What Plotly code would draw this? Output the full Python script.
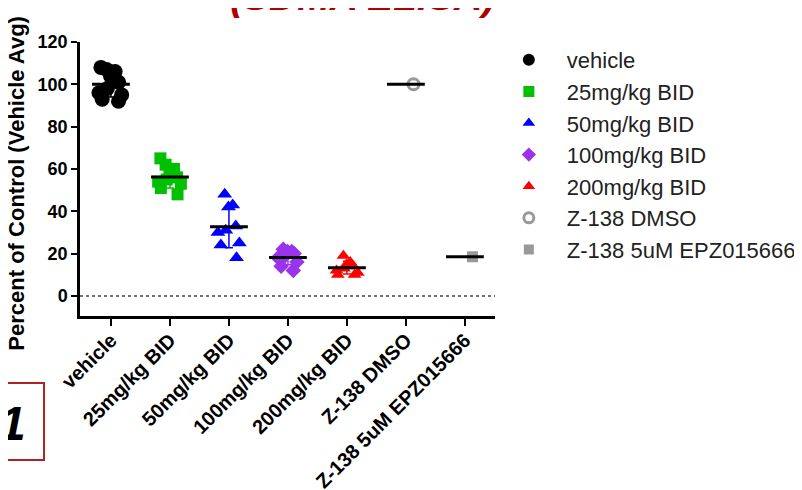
import numpy as np
import plotly.graph_objects as go

categories = ["vehicle", "25mg/kg BID", "50mg/kg BID", "100mg/kg BID",
              "200mg/kg BID", "Z-138 DMSO", "Z-138 5uM EPZ015666"]
vehicle = [108, 107, 106, 104, 101, 98, 96, 95, 93, 92]
dose_25 = [65, 62, 60, 58, 56, 55, 54, 53, 51, 48]
dose_50 = [48, 43, 42, 33, 31, 30, 25, 24, 18]
dose_100 = [22, 21, 21, 20, 19, 18, 16, 14, 12]
dose_200 = [19, 16, 15, 14, 13, 12, 11, 10, 10]
z138_dmso = [100]
z138_epz = [18.5]
y_ticks = [0, 20, 40, 60, 80, 100, 120]

groups = [vehicle, dose_25, dose_50, dose_100, dose_200, z138_dmso, z138_epz]
colors = ["#000000", "#00c000", "#0000ff", "#9933ee", "#ff0000", "#999999", "#999999"]
symbols = ["circle", "square", "triangle-up", "diamond", "triangle-up", "circle-open", "square"]
sizes = [15, 12, 13, 12, 12, 11, 11]
legend_sizes = [12, 11, 11, 11, 11, 10, 10]

FONT = "Liberation Sans, Arial, sans-serif"
fig = go.Figure()

for i, (cat, vals) in enumerate(zip(categories, groups)):
    fig.add_trace(go.Box(
        x=[cat] * len(vals), y=vals, boxpoints="all", jitter=0.9, pointpos=0,
        width=0.55, fillcolor="rgba(0,0,0,0)", line=dict(width=0, color="rgba(0,0,0,0)"),
        marker=dict(color=colors[i], symbol=symbols[i], size=sizes[i],
                    line=dict(width=3 if symbols[i] == "circle-open" else 0, color=colors[i])),
        showlegend=False, hoverinfo="y"))

# mean lines and SD error bars
for i, (cat, vals) in enumerate(zip(categories, groups)):
    arr = np.array(vals, dtype=float)
    sd = float(arr.std(ddof=1)) if len(arr) > 1 else 0.0
    fig.add_trace(go.Scatter(
        x=[cat], y=[arr.mean()], mode="markers",
        marker=dict(symbol="line-ew", size=27, line=dict(width=3, color="black")),
        error_y=dict(type="data", array=[sd], color=colors[i], thickness=1.5, width=4,
                     visible=sd > 0),
        showlegend=False, hoverinfo="skip"))

# legend entries
for i, cat in enumerate(categories):
    fig.add_trace(go.Scatter(
        x=[None], y=[None], mode="markers", name=cat, legendgroup=str(i),
        marker=dict(color=colors[i], symbol=symbols[i], size=legend_sizes[i],
                    line=dict(width=3 if symbols[i] == "circle-open" else 0, color=colors[i]))))

# dotted zero line
fig.add_shape(type="line", xref="paper", x0=0, x1=1, yref="y", y0=0, y1=0,
              line=dict(color="#444444", width=1.5, dash="dot"))

# cropped title
fig.add_annotation(text="(SDMA ELISA)", xref="paper", yref="paper", x=0.68, y=1.08,
                   xanchor="center", yanchor="bottom", showarrow=False,
                   font=dict(family=FONT, size=39, color="#b00000", weight="bold", style="italic"))

# y axis title
fig.add_annotation(text="Percent of Control (Vehicle Avg)", xref="paper", yref="paper",
                   x=-0.154, y=0.4834, xanchor="center", yanchor="middle", textangle=-90,
                   showarrow=False, font=dict(family=FONT, size=22, color="black", weight="bold"))

# panel label box
fig.add_shape(type="rect", xref="paper", yref="paper", x0=-0.205, x1=-0.0867,
              y0=-0.5255, y1=-0.2445, line=dict(color="#b22222", width=2))
fig.add_annotation(text="1", xref="paper", yref="paper", x=-0.163, y=-0.392,
                   xanchor="center", yanchor="middle", showarrow=False,
                   font=dict(family=FONT, size=48, color="black", weight="bold", style="italic"))

fig.update_layout(
    width=812, height=490, plot_bgcolor="white", paper_bgcolor="white",
    margin=dict(l=72, r=325, t=34, b=182),
    boxmode="overlay",
    font=dict(family=FONT, color="black"),
    legend=dict(x=0.990, y=1.011, xanchor="left", yanchor="top", traceorder="grouped",
                tracegroupgap=0, itemwidth=66,
                font=dict(family=FONT, size=22, color="#222222"),
                bgcolor="rgba(0,0,0,0)"),
    xaxis=dict(type="category", categoryorder="array", categoryarray=categories,
               range=[-0.525, 6.51], showline=True, linecolor="black", linewidth=2.5,
               ticks="outside", ticklen=7, tickwidth=2, tickcolor="black", tickangle=-45,
               ticklabelstandoff=-5,
               tickfont=dict(family=FONT, size=20, color="black", weight="bold"),
               showgrid=False, zeroline=False, automargin=False),
    yaxis=dict(range=[-9.5, 120], tickvals=y_ticks, showline=True, linecolor="black",
               linewidth=2.5, ticks="outside", ticklen=6, tickwidth=2, tickcolor="black",
               tickfont=dict(family=FONT, size=18, color="black", weight="bold"),
               showgrid=False, zeroline=False, automargin=False),
)

fig.write_html("out.html")
